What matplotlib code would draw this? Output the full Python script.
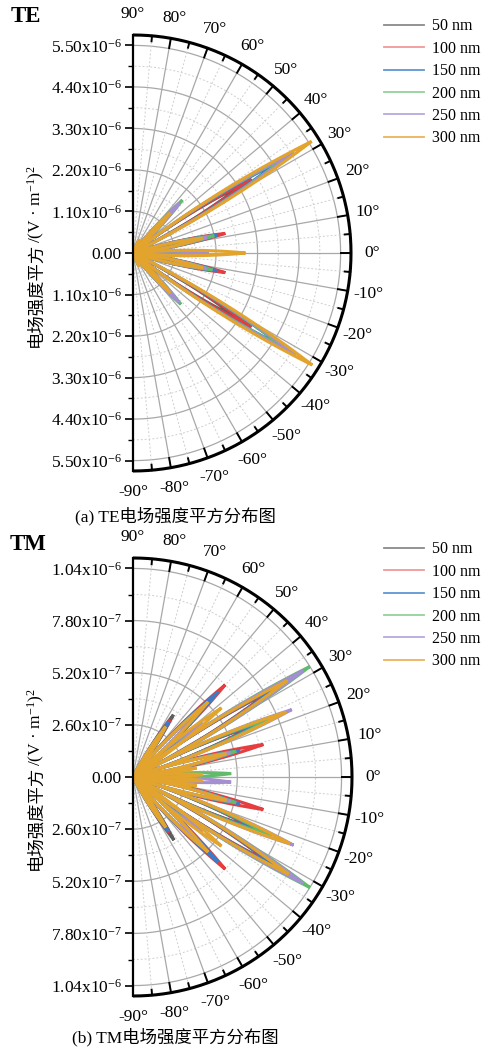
import numpy as np
import matplotlib
matplotlib.use('Agg')
import matplotlib.pyplot as plt
from matplotlib.lines import Line2D

plt.rcParams['font.family'] = ['Liberation Serif', 'Noto Sans CJK SC']
plt.rcParams['mathtext.fontset'] = 'custom'
plt.rcParams['mathtext.rm'] = 'Liberation Serif'
plt.rcParams['mathtext.it'] = 'Liberation Serif:italic'

labels = ['50 nm', '100 nm', '150 nm', '200 nm', '250 nm', '300 nm']
colors = ['#5e5e5e', '#e63d3f', '#3b7cc6', '#62bb6c', '#a48fd0', '#e2a42d']
legend_colors = ['#8a8a8a', '#f09a9a', '#5f95d2', '#95d09a', '#b9a9dc', '#eab35a']

# TE panel: lobe angles (deg) and peak |E|^2 for each thickness
te_angles = [-65, -47, -32, -12, 0, 12, 32, 47, 65]
te_50 = [0.30e-6, 1.50e-6, 3.25e-6, 1.60e-6, 1.60e-6, 1.60e-6, 3.40e-6, 1.50e-6, 0.30e-6]
te_100 = [0.25e-6, 1.60e-6, 3.70e-6, 2.50e-6, 1.70e-6, 2.50e-6, 3.70e-6, 1.60e-6, 0.25e-6]
te_150 = [0.35e-6, 1.70e-6, 4.65e-6, 2.30e-6, 1.80e-6, 2.30e-6, 4.50e-6, 1.70e-6, 0.35e-6]
te_200 = [0.30e-6, 1.86e-6, 4.75e-6, 2.15e-6, 1.90e-6, 2.20e-6, 4.80e-6, 1.92e-6, 0.30e-6]
te_250 = [0.30e-6, 1.78e-6, 5.08e-6, 2.00e-6, 2.00e-6, 2.00e-6, 5.03e-6, 1.80e-6, 0.30e-6]
te_300 = [0.40e-6, 1.45e-6, 5.60e-6, 1.90e-6, 2.98e-6, 1.90e-6, 5.58e-6, 1.45e-6, 0.40e-6]
te_ticks = [0, 1.1e-6, 2.2e-6, 3.3e-6, 4.4e-6, 5.5e-6]
te_ticklabels = ['0.00', '1.10x10$^{\\mathregular{-6}}$', '2.20x10$^{\\mathregular{-6}}$',
                 '3.30x10$^{\\mathregular{-6}}$', '4.40x10$^{\\mathregular{-6}}$', '5.50x10$^{\\mathregular{-6}}$']

# TM panel
tm_angles = [-57, -45, -38, -32, -23, -14, -8, -3, 2, 8, 14, 23, 32, 38, 45, 57]
tm_50 = [3.75e-7, 5.0e-7, 3.5e-7, 8.0e-7, 6.5e-7, 5.0e-7, 2.8e-7, 1.5e-7, 1.5e-7, 2.8e-7, 5.0e-7, 6.5e-7, 8.0e-7, 3.5e-7, 5.0e-7, 3.7e-7]
tm_100 = [3.3e-7, 6.5e-7, 3.8e-7, 8.2e-7, 6.8e-7, 6.7e-7, 2.0e-7, 1.6e-7, 1.6e-7, 2.0e-7, 6.7e-7, 6.8e-7, 8.2e-7, 3.8e-7, 6.5e-7, 3.4e-7]
tm_150 = [3.2e-7, 6.0e-7, 4.0e-7, 8.5e-7, 7.0e-7, 5.5e-7, 2.2e-7, 2.5e-7, 2.5e-7, 2.2e-7, 5.5e-7, 7.0e-7, 8.5e-7, 4.0e-7, 6.0e-7, 3.3e-7]
tm_200 = [2.8e-7, 5.0e-7, 4.2e-7, 10.4e-7, 7.5e-7, 5.3e-7, 2.5e-7, 3.0e-7, 4.9e-7, 2.5e-7, 5.3e-7, 7.5e-7, 10.4e-7, 4.2e-7, 5.0e-7, 2.8e-7]
tm_250 = [2.6e-7, 4.5e-7, 4.4e-7, 10.0e-7, 8.7e-7, 5.0e-7, 2.4e-7, 4.9e-7, 3.0e-7, 2.4e-7, 5.0e-7, 8.6e-7, 10.0e-7, 4.4e-7, 4.5e-7, 2.6e-7]
tm_300 = [3.0e-7, 5.3e-7, 5.6e-7, 9.15e-7, 8.5e-7, 4.8e-7, 3.2e-7, 3.5e-7, 3.5e-7, 3.2e-7, 4.8e-7, 8.3e-7, 9.05e-7, 5.6e-7, 5.3e-7, 3.0e-7]
tm_ticks = [0, 2.6e-7, 5.2e-7, 7.8e-7, 1.04e-6]
tm_ticklabels = ['0.00', '2.60x10$^{\\mathregular{-7}}$', '5.20x10$^{\\mathregular{-7}}$',
                 '7.80x10$^{\\mathregular{-7}}$', '1.04x10$^{\\mathregular{-6}}$']

ylabel_cn = '电场强度平方'
ylabel_unit = '/(V · m$^{\\mathregular{-1}}$)$^{\\mathregular{2}}$'

FS = 12.5


def petal(ax, ang, peak, color, z, hw=5.5):
    phi = np.linspace(-hw, hw, 81)
    r = peak * (1 - np.abs(phi) / hw)
    t = np.radians(ang + phi)
    ax.plot(r * np.cos(t), r * np.sin(t), color=color, lw=2.2, zorder=z, solid_joinstyle='miter')


def half_polar(ax, angles, series, ticks, ticklabels):
    rmax = ticks[-1] * 1.05
    step = ticks[1]
    ax.set_xlim(0, rmax)
    ax.set_ylim(-rmax, rmax)
    ax.patch.set_visible(False)
    for s in ['top', 'right', 'bottom']:
        ax.spines[s].set_visible(False)
    ax.spines['left'].set_linewidth(1.6)
    ax.spines['left'].set_zorder(30)

    th = np.radians(np.linspace(-90, 90, 361))
    # radial grid circles
    for k in range(1, len(ticks)):
        r = ticks[k]
        ax.plot(r * np.cos(th), r * np.sin(th), color='#a8a8a8', lw=0.9, zorder=1)
        rm = r - step / 2
        ax.plot(rm * np.cos(th), rm * np.sin(th), color='#cfcfcf', lw=0.7, ls=(0, (2, 2)), zorder=1)
    # angular grid
    for a in range(-80, 90, 10):
        t = np.radians(a)
        ax.plot([0, rmax * np.cos(t)], [0, rmax * np.sin(t)], color='#a8a8a8', lw=0.9, zorder=1)
    for a in range(-85, 90, 10):
        t = np.radians(a)
        ax.plot([0, rmax * np.cos(t)], [0, rmax * np.sin(t)], color='#cfcfcf', lw=0.7,
                ls=(0, (2, 2)), zorder=1)
    # outer arc with inward ticks
    ax.plot(rmax * np.cos(th), rmax * np.sin(th), color='black', lw=2.2, zorder=31,
            clip_on=False, solid_capstyle='butt')
    for a in range(-90, 91, 5):
        t = np.radians(a)
        ln = 0.045 if a % 10 == 0 else 0.025
        ax.plot([rmax * np.cos(t), rmax * (1 - ln) * np.cos(t)],
                [rmax * np.sin(t), rmax * (1 - ln) * np.sin(t)],
                color='black', lw=1.4, zorder=31, clip_on=False)
        if a % 10 == 0:
            ax.text(1.095 * rmax * np.cos(t), 1.095 * rmax * np.sin(t), '%d°' % a,
                    ha='center', va='center', fontsize=FS)

    # lobes, drawn in legend order so 300 nm ends on top
    for j, s in enumerate(series):
        for ang, val in zip(angles, s):
            petal(ax, ang, val, colors[j], 5 + j)

    yt = list(ticks) + [-v for v in ticks[1:]]
    yl = list(ticklabels) + list(ticklabels[1:])
    ax.set_yticks(yt)
    ax.set_yticklabels(yl, fontsize=FS)
    minor = [v + step / 2 for v in ticks[:-1]]
    ax.set_yticks(minor + [-v for v in minor], minor=True)
    ax.tick_params(axis='y', which='major', length=6, width=1.2, direction='out', pad=2)
    ax.tick_params(axis='y', which='minor', length=3.5, width=1.0, direction='out')
    ax.set_xticks([])


fig = plt.figure(figsize=(4.9, 10.51), dpi=100)

ax1 = fig.add_axes([133 / 490, 1 - 471 / 1051, 218 / 490, 436 / 1051])
half_polar(ax1, te_angles, [te_50, te_100, te_150, te_200, te_250, te_300], te_ticks, te_ticklabels)
ax2 = fig.add_axes([133 / 490, 1 - 996 / 1051, 219 / 490, 438 / 1051])
half_polar(ax2, tm_angles, [tm_50, tm_100, tm_150, tm_200, tm_250, tm_300], tm_ticks, tm_ticklabels)

for yb in [347, 870]:
    t1 = fig.text(36 / 490, 1 - yb / 1051, ylabel_cn, rotation=90, ha='center', va='bottom',
                  fontsize=FS, family='Noto Sans CJK SC')
    ax1.annotate(ylabel_unit, xy=(0.5, 1.0), xycoords=t1, rotation=90, ha='center',
                 va='bottom', fontsize=FS, annotation_clip=False)

fig.text(26 / 490, 1 - 17 / 1051, 'TE', fontsize=16.5, fontweight='bold', ha='center', va='center')
fig.text(28 / 490, 1 - 545 / 1051, 'TM', fontsize=16.5, fontweight='bold', ha='center', va='center')
fig.text(175 / 490, 1 - 516 / 1051, '(a) TE电场强度平方分布图', fontsize=FS, ha='center', va='center')
fig.text(175 / 490, 1 - 1037 / 1051, '(b) TM电场强度平方分布图', fontsize=FS, ha='center', va='center')

handles = [Line2D([], [], color=c, lw=1.3) for c in legend_colors]
for y0 in [12, 535]:
    fig.legend(handles, labels, loc='upper left', bbox_to_anchor=(378 / 490, 1 - y0 / 1051),
               frameon=False, fontsize=11.5, handlelength=2.5, handletextpad=0.5,
               labelspacing=0.4, borderaxespad=0)

fig.savefig('out.png', dpi=100, facecolor='white')
